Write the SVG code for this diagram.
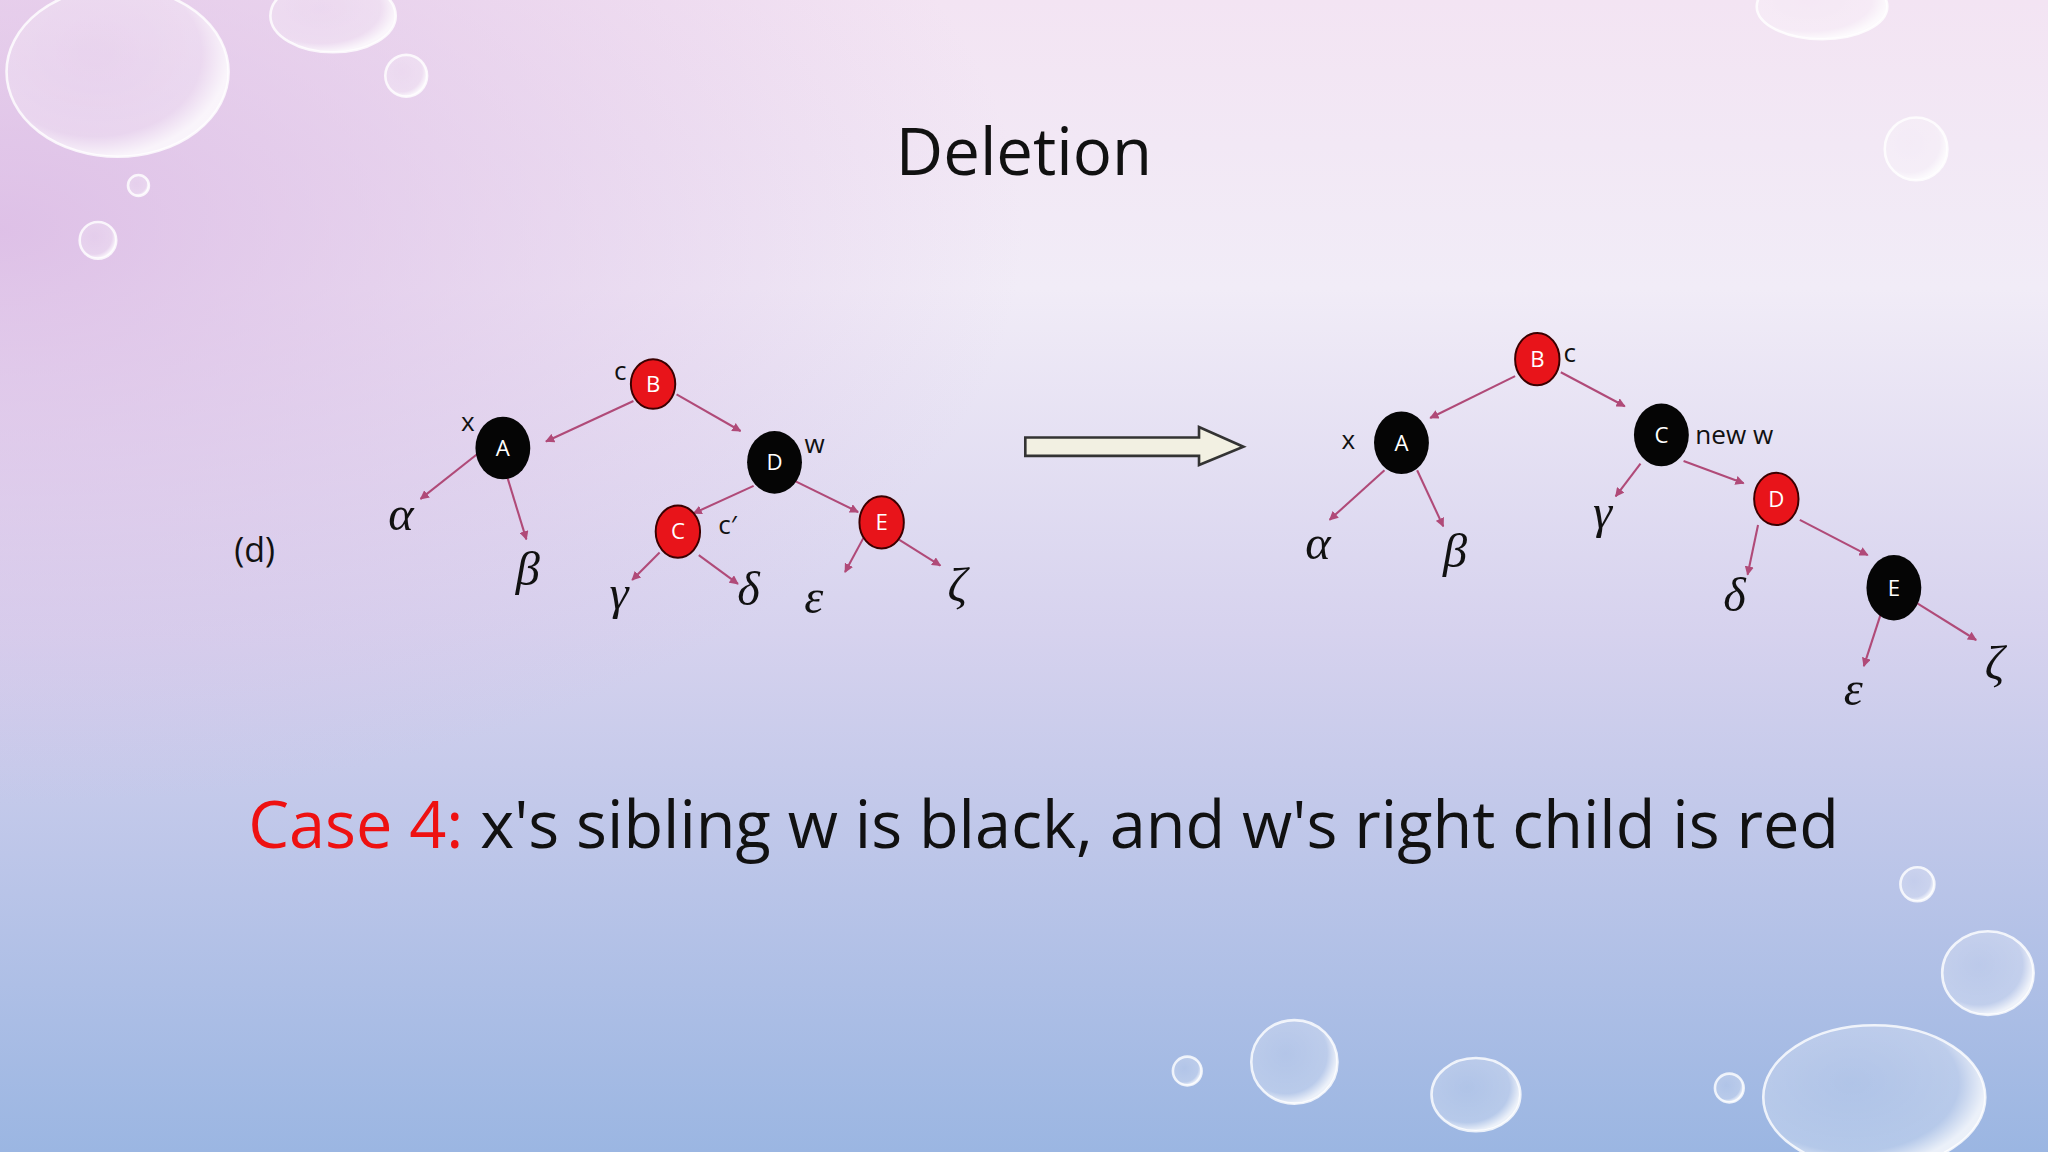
<svg xmlns="http://www.w3.org/2000/svg" width="2048" height="1152" viewBox="0 0 2048 1152">
<defs>
<linearGradient id="bg" x1="0" y1="0" x2="0" y2="1">
<stop offset="0" stop-color="#f3e4f3"/><stop offset="0.25" stop-color="#f1ecf7"/><stop offset="0.55" stop-color="#d6d2ee"/><stop offset="1" stop-color="#9bb6e2"/>
</linearGradient>
<radialGradient id="tl" cx="0" cy="0.2" r="0.5"><stop offset="0" stop-color="#d9b6e3" stop-opacity="0.8"/><stop offset="1" stop-color="#d9b6e3" stop-opacity="0"/></radialGradient>
<radialGradient id="bub" cx="0.4" cy="0.4" r="0.6"><stop offset="0" stop-color="#ffffff" stop-opacity="0.15"/><stop offset="0.8" stop-color="#ffffff" stop-opacity="0.25"/><stop offset="1" stop-color="#ffffff" stop-opacity="0.8"/></radialGradient>
<marker id="ah" viewBox="0 0 10 10" refX="9" refY="5" markerWidth="7" markerHeight="7" orient="auto" markerUnits="userSpaceOnUse"><path d="M0,0 L10,5 L0,10 z" fill="#b04a78"/></marker>
<style>
.e{stroke:#b04a78;stroke-width:1.6;fill:none;marker-end:url(#ah)}
.r{fill:#e8141a;stroke:#3a0000;stroke-width:1.5}
.b{fill:#050505}
.nl{font-family:"Open Sans","DejaVu Sans",sans-serif;font-size:17px;fill:#fff;text-anchor:middle}
.lb{font-family:"Open Sans","DejaVu Sans",sans-serif;font-size:20px;fill:#111}
.g{font-family:"Liberation Serif",serif;font-style:italic;font-size:37px;fill:#111;text-anchor:middle}
.bb{fill:url(#bub);stroke:#ffffff;stroke-width:2;stroke-opacity:0.8}
</style>
</defs>
<rect width="2048" height="1152" fill="url(#bg)"/>
<rect width="2048" height="1152" fill="url(#tl)"/>
<g transform="scale(1.30612)">
<g id="bubbles">
<ellipse class="bb" cx="90" cy="55" rx="85" ry="65"/>
<ellipse class="bb" cx="255" cy="12" rx="48" ry="28"/>
<circle class="bb" cx="311" cy="58" r="16"/>
<circle class="bb" cx="106" cy="142" r="8"/>
<circle class="bb" cx="75" cy="184" r="14"/>
<ellipse class="bb" cx="1395" cy="5" rx="50" ry="25"/>
<circle class="bb" cx="1467" cy="114" r="24"/>
<circle class="bb" cx="1468" cy="677" r="13"/>
<ellipse class="bb" cx="1522" cy="745" rx="35" ry="32"/>
<circle class="bb" cx="909" cy="820" r="11"/>
<ellipse class="bb" cx="991" cy="813" rx="33" ry="32"/>
<ellipse class="bb" cx="1130" cy="838" rx="34" ry="28"/>
<circle class="bb" cx="1324" cy="833" r="11"/>
<ellipse class="bb" cx="1435" cy="840" rx="85" ry="55"/>
</g>
<text x="784" y="134" font-family="'Open Sans','Noto Sans',sans-serif" font-size="50" text-anchor="middle" fill="#111">Deletion</text>
<text x="195" y="430" font-family="'Open Sans','DejaVu Sans',sans-serif" font-size="26" fill="#111" text-anchor="middle">(d)</text>
<g id="connectors">
<line class="e" x1="485" y1="307" x2="418" y2="338"/>
<line class="e" x1="518" y1="302" x2="567" y2="330"/>
<line class="e" x1="365" y1="348" x2="322" y2="382"/>
<line class="e" x1="388" y1="364" x2="403" y2="413"/>
<line class="e" x1="577" y1="372" x2="531" y2="393"/>
<line class="e" x1="608" y1="368" x2="657" y2="392"/>
<line class="e" x1="505" y1="423" x2="484" y2="444"/>
<line class="e" x1="535" y1="425" x2="565" y2="447"/>
<line class="e" x1="661" y1="412" x2="647" y2="438"/>
<line class="e" x1="688" y1="413" x2="720" y2="433"/>
<line class="e" x1="1160" y1="288" x2="1095" y2="320"/>
<line class="e" x1="1195" y1="285" x2="1244" y2="311"/>
<line class="e" x1="1060" y1="360" x2="1018" y2="398"/>
<line class="e" x1="1085" y1="360" x2="1105" y2="403"/>
<line class="e" x1="1256" y1="355" x2="1237" y2="380"/>
<line class="e" x1="1289" y1="353" x2="1335" y2="370"/>
<line class="e" x1="1346" y1="402" x2="1338" y2="440"/>
<line class="e" x1="1378" y1="398" x2="1430" y2="425"/>
<line class="e" x1="1440" y1="470" x2="1427" y2="510"/>
<line class="e" x1="1468" y1="462" x2="1513" y2="490"/>
</g>
<g id="bigarrow"><path d="M785,335 L918,335 L918,327 L952,342 L918,356 L918,349 L785,349 z" fill="#f2f0e2" stroke="#333" stroke-width="2"/></g>
<g id="L_B"><ellipse class="r" cx="500" cy="294" rx="17" ry="19"/><text class="nl" x="500" y="300">B</text><text class="lb" x="470" y="291">c</text></g>
<g id="L_A"><ellipse class="b" cx="385" cy="343" rx="21" ry="24"/><text class="nl" x="385" y="349">A</text><text class="lb" x="353" y="330">x</text></g>
<g id="L_D"><ellipse class="b" cx="593" cy="354" rx="21" ry="24"/><text class="nl" x="593" y="360">D</text><text class="lb" x="616" y="347">w</text></g>
<g id="L_C"><ellipse class="r" cx="519" cy="407" rx="17" ry="20"/><text class="nl" x="519" y="413">C</text><text class="lb" x="550" y="409">c′</text></g>
<g id="L_E"><ellipse class="r" cx="675" cy="400" rx="17" ry="20"/><text class="nl" x="675" y="406">E</text></g>
<text class="g" x="307" y="406">α</text>
<text class="g" x="404" y="448">β</text>
<text class="g" x="474" y="466">γ</text>
<text class="g" x="573" y="463">δ</text>
<text class="g" x="623" y="469">ε</text>
<text class="g" x="733" y="460">ζ</text>
<g id="R_B"><ellipse class="r" cx="1177" cy="275" rx="17" ry="20"/><text class="nl" x="1177" y="281">B</text><text class="lb" x="1197" y="277">c</text></g>
<g id="R_A"><ellipse class="b" cx="1073" cy="339" rx="21" ry="24"/><text class="nl" x="1073" y="345">A</text><text class="lb" x="1027" y="344">x</text></g>
<g id="R_C"><ellipse class="b" cx="1272" cy="333" rx="21" ry="24"/><text class="nl" x="1272" y="339">C</text><text class="lb" x="1298" y="340">new w</text></g>
<g id="R_D"><ellipse class="r" cx="1360" cy="382" rx="17" ry="20"/><text class="nl" x="1360" y="388">D</text></g>
<g id="R_E"><ellipse class="b" cx="1450" cy="450" rx="21" ry="25"/><text class="nl" x="1450" y="456">E</text></g>
<text class="g" x="1009" y="428">α</text>
<text class="g" x="1114" y="434">β</text>
<text class="g" x="1227" y="404">γ</text>
<text class="g" x="1328" y="468">δ</text>
<text class="g" x="1419" y="540">ε</text>
<text class="g" x="1527" y="520">ζ</text>
<text x="190" y="649" font-family="'Open Sans','Noto Sans',sans-serif" font-size="50" fill="#111" textLength="1218" lengthAdjust="spacingAndGlyphs"><tspan fill="#ee1111">Case 4:</tspan> x's sibling w is black, and w's right child is red</text>
</g>
</svg>
